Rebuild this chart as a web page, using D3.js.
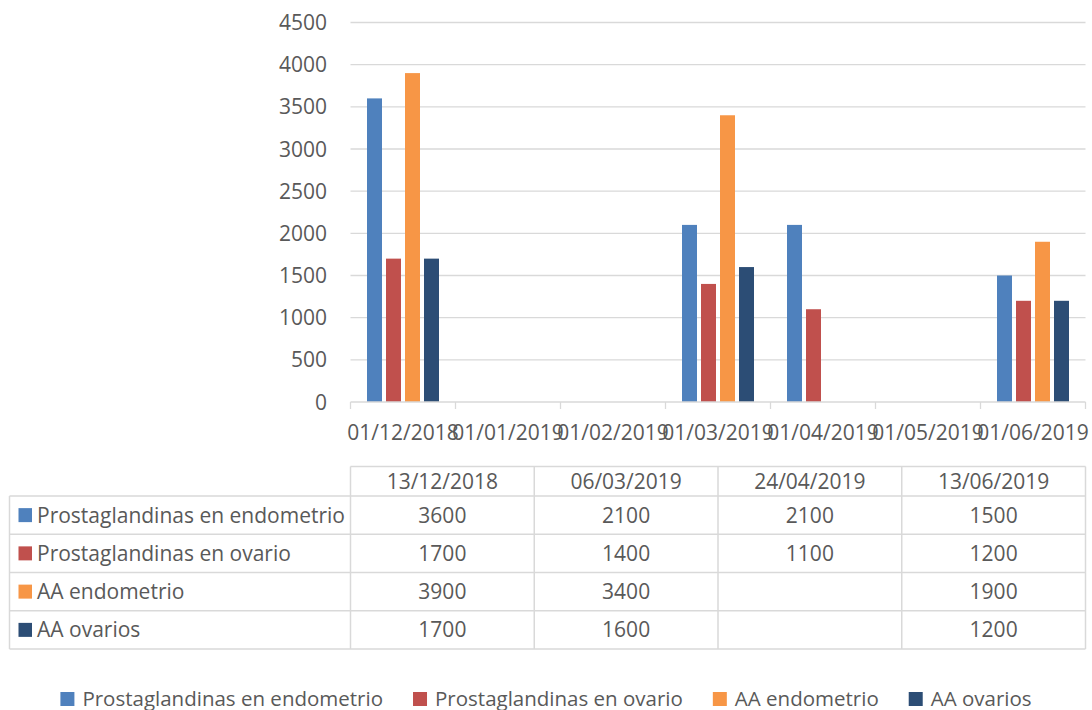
<!DOCTYPE html>
<html>
<head>
<meta charset="utf-8">
<script src="https://cdn.jsdelivr.net/npm/d3@7"></script>
<style>
  html, body { margin: 0; padding: 0; background: #fff; }
  svg text { font-family: "Open Sans", "Noto Sans", sans-serif; fill: #595959; }
</style>
</head>
<body>
<svg id="chart" width="1092" height="710"></svg>
<script>
// Monthly category axis
const monthLabels = ["01/12/2018", "01/01/2019", "01/02/2019", "01/03/2019", "01/04/2019", "01/05/2019", "01/06/2019"];
// Sampling dates (table columns)
const sampleDates = ["13/12/2018", "06/03/2019", "24/04/2019", "13/06/2019"];
// Series
const seriesNames = ["Prostaglandinas en endometrio", "Prostaglandinas en ovario", "AA endometrio", "AA ovarios"];
const seriesColors = ["#4f81bd", "#c0504d", "#f79646", "#2c4d75"];
const endometrioPG = [3600, 2100, 2100, 1500];
const ovarioPG = [1700, 1400, 1100, 1200];
const endometrioAA = [3900, 3400, null, 1900];
const ovariosAA = [1700, 1600, null, 1200];
const seriesValues = [endometrioPG, ovarioPG, endometrioAA, ovariosAA];
// Value axis ticks
const yTicks = [0, 500, 1000, 1500, 2000, 2500, 3000, 3500, 4000, 4500];

const svg = d3.select("#chart");
const FS = 21;
const gridColor = "#d9d9d9";

const plotLeft = 350.5, plotRight = 1085.5, plotTop = 22.5, plotBottom = 402;

const parse = d3.timeParse("%d/%m/%Y");
const monthKey = d => d3.timeFormat("%d/%m/%Y")(d3.timeMonth.floor(parse(d)));

const x = d3.scaleBand().domain(monthLabels).range([plotLeft, plotRight]).padding(0);
const groupWidth = 72;
const x1 = d3.scaleBand().domain(seriesNames).range([0, groupWidth]).paddingInner(12 / 57);
const y = d3.scaleLinear().domain([0, 4500]).range([plotBottom, plotTop]);

// gridlines
svg.append("g").selectAll("line").data(yTicks.filter(t => t > 0)).join("line")
  .attr("x1", plotLeft).attr("x2", plotRight)
  .attr("y1", d => y(d)).attr("y2", d => y(d))
  .attr("stroke", gridColor).attr("stroke-width", 1.3);

// y tick labels
svg.append("g").selectAll("text").data(yTicks).join("text")
  .attr("x", 327).attr("y", d => y(d)).attr("dy", "0.36em")
  .attr("text-anchor", "end").attr("font-size", FS)
  .text(d => d);

// bars
const barData = [];
sampleDates.forEach((d, i) => {
  seriesNames.forEach((s, j) => {
    const v = seriesValues[j][i];
    if (v != null) barData.push({ month: monthKey(d), series: s, value: v, color: seriesColors[j] });
  });
});
svg.append("g").selectAll("rect").data(barData).join("rect")
  .attr("x", d => x(d.month) + (x.bandwidth() - groupWidth) / 2 + x1(d.series))
  .attr("width", x1.bandwidth())
  .attr("y", d => y(d.value))
  .attr("height", d => y(0) - y(d.value))
  .attr("fill", d => d.color);

// category axis
const xAxis = svg.append("g");
xAxis.append("line").attr("x1", plotLeft).attr("x2", plotRight)
  .attr("y1", plotBottom).attr("y2", plotBottom)
  .attr("stroke", gridColor).attr("stroke-width", 1.3);
const boundaries = monthLabels.map(m => x(m)).concat([plotRight]);
xAxis.selectAll("line.tick").data(boundaries).join("line").attr("class", "tick")
  .attr("x1", d => d).attr("x2", d => d)
  .attr("y1", plotBottom).attr("y2", plotBottom + 7)
  .attr("stroke", gridColor).attr("stroke-width", 1.3);
xAxis.selectAll("text").data(monthLabels).join("text")
  .attr("x", d => x(d) + x.bandwidth() / 2).attr("y", 440)
  .attr("text-anchor", "middle").attr("font-size", FS)
  .text(d => d);

// data table
const tableLeft = 9.5;
const colX = d3.scaleBand().domain(sampleDates).range([plotLeft, plotRight]);
const headerTop = 466.5, headerBottom = 496, rowH = 38.25;
const rowY = i => headerBottom + i * rowH;
const table = svg.append("g");
const tbl = table.append("g").attr("stroke", gridColor).attr("stroke-width", 1.5).attr("fill", "none");
tbl.append("line").attr("x1", plotLeft).attr("x2", plotRight).attr("y1", headerTop).attr("y2", headerTop);
d3.range(seriesNames.length + 1).forEach(i => {
  tbl.append("line").attr("x1", tableLeft).attr("x2", plotRight).attr("y1", rowY(i)).attr("y2", rowY(i));
});
tbl.append("line").attr("x1", tableLeft).attr("x2", tableLeft).attr("y1", rowY(0)).attr("y2", rowY(seriesNames.length));
sampleDates.map(d => colX(d)).concat([plotRight]).forEach(cx => {
  tbl.append("line").attr("x1", cx).attr("x2", cx).attr("y1", headerTop).attr("y2", rowY(seriesNames.length));
});
table.selectAll("text.hdr").data(sampleDates).join("text").attr("class", "hdr")
  .attr("x", d => colX(d) + colX.bandwidth() / 2).attr("y", (headerTop + headerBottom) / 2)
  .attr("dy", "0.36em").attr("text-anchor", "middle").attr("font-size", FS)
  .text(d => d);
seriesNames.forEach((s, i) => {
  const cy = rowY(i) + rowH / 2;
  table.append("rect").attr("x", 18.5).attr("y", cy - 7).attr("width", 13.5).attr("height", 14)
    .attr("fill", seriesColors[i]);
  table.append("text").attr("x", 37).attr("y", cy).attr("dy", "0.36em")
    .attr("font-size", FS).text(s);
  sampleDates.forEach((d, j) => {
    const v = seriesValues[i][j];
    if (v == null) return;
    table.append("text").attr("x", colX(d) + colX.bandwidth() / 2).attr("y", cy).attr("dy", "0.36em")
      .attr("text-anchor", "middle").attr("font-size", FS).text(v);
  });
});

// legend along the bottom edge
const legend = svg.append("g");
let lx = 0;
seriesNames.forEach((s, i) => {
  const g = legend.append("g").attr("transform", `translate(${lx},0)`);
  g.append("rect").attr("x", 0).attr("y", 692).attr("width", 14).attr("height", 14).attr("fill", seriesColors[i]);
  const t = g.append("text").attr("x", 22).attr("y", 699).attr("dy", "0.36em").attr("font-size", 20.5).text(s);
  const w = t.node().getComputedTextLength();
  lx += 22 + w + 30;
});
const legendWidth = lx - 30;
legend.attr("transform", `translate(${(1092 - legendWidth) / 2},0)`);
</script>
</body>
</html>
